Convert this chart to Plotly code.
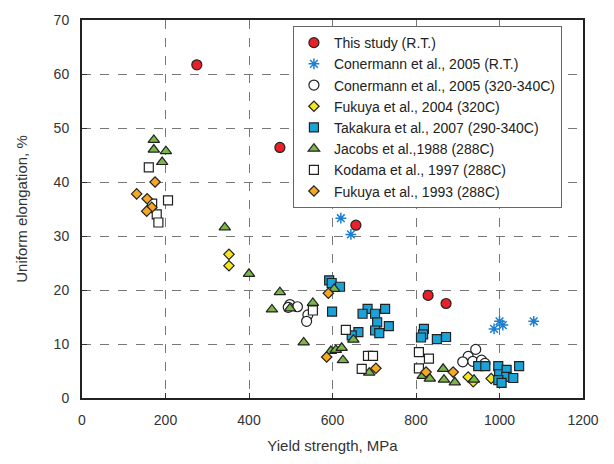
import plotly.graph_objects as go

# ---- data ----
this_x = [275, 474, 656, 829, 872]
this_y = [61.7, 46.4, 32.0, 19.0, 17.5]

con_rt_x = [620, 644, 987, 1000, 1008, 1082]
con_rt_y = [33.3, 30.3, 12.8, 14.2, 13.5, 14.2]

con_ht_x = [498, 516, 494, 541, 538, 943, 925, 912, 936, 957, 965]
con_ht_y = [17.3, 16.9, 16.8, 15.4, 14.2, 9.0, 7.7, 6.7, 6.8, 7.0, 6.4]

fuk04_x = [352, 352, 925, 937, 980]
fuk04_y = [26.6, 24.5, 3.9, 3.0, 3.6]

tak_x = [592, 598, 618, 599, 684, 672, 702, 726, 707, 735, 702, 712, 662, 646,
         819, 817, 812, 850, 872, 949, 966, 997, 999, 1017, 1016, 1033, 1047, 997, 1005]
tak_y = [21.8, 21.3, 20.6, 16.0, 16.5, 15.6, 15.6, 16.5, 14.0, 13.3, 12.5, 12.0, 12.2, 11.6,
         12.8, 11.8, 11.2, 10.9, 11.3, 5.9, 5.9, 5.9, 4.4, 5.2, 3.9, 3.7, 5.9, 3.3, 2.8]

jac_x = [172, 172, 201, 192, 342, 400, 474, 455, 498, 553, 604, 531, 650, 596, 608,
         622, 625, 688, 816, 833, 865, 867, 893, 939]
jac_y = [47.8, 46.0, 45.7, 43.7, 31.6, 23.0, 19.6, 16.4, 16.6, 17.6, 20.2, 10.3, 10.8, 8.7, 8.9,
         9.3, 7.0, 4.7, 4.1, 3.6, 5.4, 3.4, 2.9, 3.4]

kod_x = [160, 206, 168, 179, 183, 553, 632, 685, 697, 670, 807, 831, 807]
kod_y = [42.7, 36.6, 36.0, 34.0, 32.5, 16.2, 12.6, 7.8, 7.8, 5.4, 8.5, 7.3, 5.5]

fuk93_x = [175, 131, 156, 167, 155, 590, 586, 704, 824, 889]
fuk93_y = [40.0, 37.8, 36.9, 35.3, 34.6, 19.4, 7.6, 5.5, 4.8, 4.8]

x_ticks = [0, 200, 400, 600, 800, 1000, 1200]
y_ticks = [0, 10, 20, 30, 40, 50, 60, 70]

series = [
    ("This study (R.T.)", this_x, this_y, "circle", "#e8202a", 10),
    ("Conermann et al., 2005 (R.T.)", con_rt_x, con_rt_y, "asterisk-open", "#1a7fd0", 9),
    ("Conermann et al., 2005 (320-340C)", con_ht_x, con_ht_y, "circle", "white", 10),
    ("Fukuya et al., 2004 (320C)", fuk04_x, fuk04_y, "diamond", "#f6e61c", 8),
    ("Takakura et al., 2007 (290-340C)", tak_x, tak_y, "square", "#1ba3d8", 9),
    ("Jacobs et al.,1988 (288C)", jac_x, jac_y, "triangle-up", "#7ab648", 10),
    ("Kodama et al., 1997 (288C)", kod_x, kod_y, "square", "white", 9),
    ("Fukuya et al., 1993 (288C)", fuk93_x, fuk93_y, "diamond", "#f7a823", 8),
]

fig = go.Figure()
for name, xs, ys, sym, col, sz in series:
    if sym == "asterisk-open":
        marker = dict(symbol=sym, size=sz, color=col, line=dict(color=col, width=1.5))
    else:
        marker = dict(symbol=sym, size=sz, color=col, line=dict(color="#222222", width=1.2))
    fig.add_trace(go.Scatter(x=xs, y=ys, mode="markers", name=name, marker=marker))

fig.update_layout(
    width=614, height=464,
    margin=dict(l=82, r=31, t=18, b=66),
    paper_bgcolor="white", plot_bgcolor="white",
    font=dict(family="Liberation Sans, Arial, sans-serif", size=14, color="#333333"),
    legend=dict(
        x=0.421, y=0.984, xanchor="left", yanchor="top",
        bordercolor="#666666", borderwidth=1, bgcolor="white",
        font=dict(size=14, color="#222222"),
        tracegroupgap=0, itemwidth=30,
    ),
    showlegend=True,
)
fig.update_xaxes(
    range=[0, 1200], tickvals=x_ticks, ticks="inside", ticklen=5, tickcolor="#333333",
    showline=True, linecolor="#222222", linewidth=2, mirror=True,
    showgrid=True, gridcolor="#777777", griddash="dash", gridwidth=1,
    zeroline=False, ticklabelstandoff=8,
    title=dict(text="Yield strength, MPa", standoff=14, font=dict(size=15)),
)
fig.update_yaxes(
    range=[0, 70], tickvals=y_ticks, ticks="inside", ticklen=5, tickcolor="#333333",
    showline=True, linecolor="#222222", linewidth=2, mirror=True,
    showgrid=True, gridcolor="#777777", griddash="dash", gridwidth=1,
    zeroline=False, ticklabelstandoff=8,
    title=dict(text="Uniform elongation, %", standoff=22, font=dict(size=15)),
)

fig.write_html("out.html")
